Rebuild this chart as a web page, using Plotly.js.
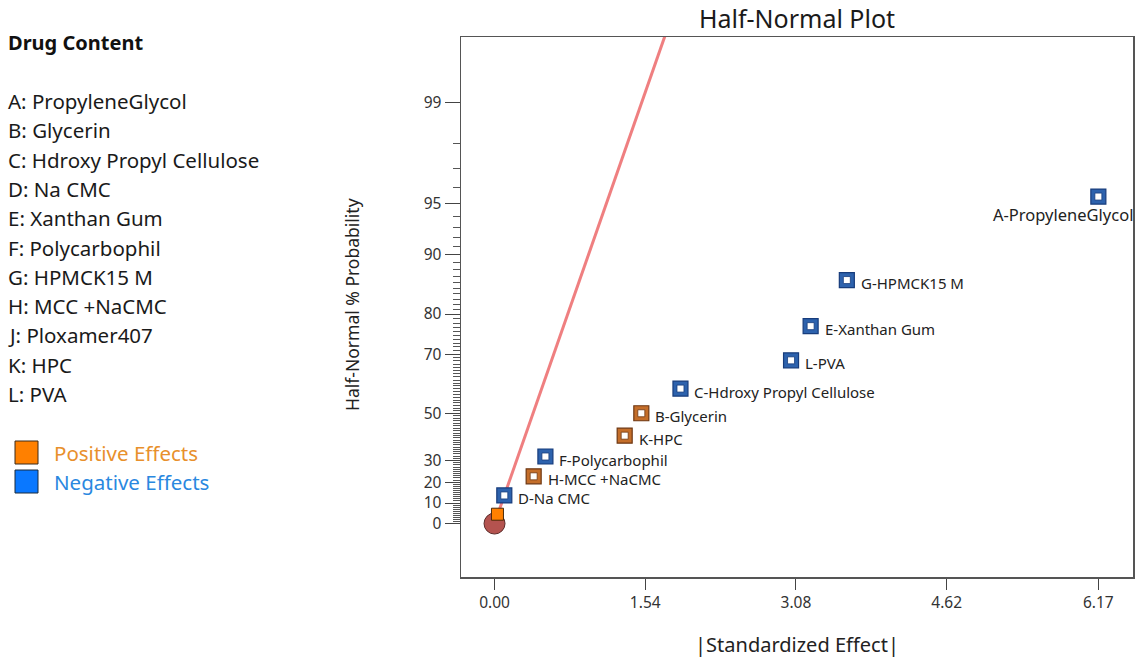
<!DOCTYPE html>
<html>
<head>
<meta charset="utf-8">
<script src="https://cdn.plot.ly/plotly-3.0.1.min.js"></script>
<style>html,body{margin:0;padding:0;background:#fff;}#chart{width:1135px;height:658px;}</style>
</head>
<body>
<div id="chart"></div>
<script>
// ---------- data ----------
const factorLetters = ['A','B','C','D','E','F','G','H','J','K','L'];
const factorNames = ['PropyleneGlycol','Glycerin','Hdroxy Propyl Cellulose','Na CMC','Xanthan Gum','Polycarbophil','HPMCK15 M','MCC +NaCMC','Ploxamer407','HPC','PVA'];
const effectSize = [6.17, 1.50, 1.90, 0.10, 3.23, 0.52, 3.60, 0.40, 0.03, 1.33, 3.03];
const halfNormalProb = [95.45, 50.00, 59.09, 13.64, 77.27, 31.82, 86.36, 22.73, 4.55, 40.91, 68.18];
const effectSign = ['-','+','-','-','-','-','-','+','+','+','-'];
const showLabel = [true,true,true,true,true,true,true,true,false,true,true];
const originEffect = [0];
const originProb = [0];
const fitEffect = [0, 2.0];
const fitSlope = 1.7126; // z units per |effect| unit
const xTickVals = [0, 1.54, 3.08, 4.62, 6.17];
const yMajorProb = [0, 10, 20, 30, 50, 70, 80, 90, 95, 99];
const legendTitle = 'Drug Content';

// ---------- helpers ----------
function invNorm(p){
  const a=[-3.969683028665376e+01,2.209460984245205e+02,-2.759285104469687e+02,1.383577518672690e+02,-3.066479806614716e+01,2.506628277459239e+00];
  const b=[-5.447609879822406e+01,1.615858368580409e+02,-1.556989798598866e+02,6.680131188771972e+01,-1.328068155288572e+01];
  const c=[-7.784894002430293e-03,-3.223964580411365e-01,-2.400758277161838e+00,-2.549732539343734e+00,4.374664141464968e+00,2.938163982698783e+00];
  const d=[7.784695709041462e-03,3.224671290700398e-01,2.445134137142996e+00,3.754408661907416e+00];
  const pl=0.02425, ph=1-pl; let q,r;
  if(p<pl){q=Math.sqrt(-2*Math.log(p));return (((((c[0]*q+c[1])*q+c[2])*q+c[3])*q+c[4])*q+c[5])/((((d[0]*q+d[1])*q+d[2])*q+d[3])*q+1);}
  if(p<=ph){q=p-0.5;r=q*q;return (((((a[0]*r+a[1])*r+a[2])*r+a[3])*r+a[4])*r+a[5])*q/(((((b[0]*r+b[1])*r+b[2])*r+b[3])*r+b[4])*r+1);}
  q=Math.sqrt(-2*Math.log(1-p));return -(((((c[0]*q+c[1])*q+c[2])*q+c[3])*q+c[4])*q+c[5])/((((d[0]*q+d[1])*q+d[2])*q+d[3])*q+1);
}
// half-normal probability scale
function hz(pct){ return pct<=0 ? 0 : invNorm(0.5 + pct/200); }

const yMinorProb = [];
for(let p=1;p<99;p++){ if(yMajorProb.indexOf(p)<0) yMinorProb.push(p); }

const FONT = 'Noto Sans, Open Sans, sans-serif';
const BLUE_OUT='#173c7c', BLUE_MID='#2d62ad';
const ORG_OUT='#6e3712', ORG_MID='#c46e2a';

const idxNeg = [], idxPos = [];
effectSign.forEach((s,i)=>{ if(factorLetters[i]==='J') return; (s==='+'?idxPos:idxNeg).push(i); });
const jIdx = factorLetters.indexOf('J');

function pick(arr, idx){ return idx.map(i=>arr[i]); }

const traces = [];
// fit line
traces.push({x: fitEffect, y: fitEffect.map(v=>v*fitSlope), mode:'lines', line:{color:'#ef7f80', width:3}, hoverinfo:'skip'});
// origin marker
traces.push({x: originEffect, y: originProb.map(hz), mode:'markers', marker:{symbol:'circle', size:21, color:'#b4534f', line:{color:'#5b2a28', width:1}}, cliponaxis:false});
// J marker (small filled)
traces.push({x:[effectSize[jIdx]], y:[hz(halfNormalProb[jIdx])], mode:'markers', marker:{symbol:'square', size:12, color:'#ff8000', line:{color:'#4a2a0a', width:1}}});
// negative / positive effects
[[idxNeg, BLUE_OUT, BLUE_MID],[idxPos, ORG_OUT, ORG_MID]].forEach(([idx,outC,midC])=>{
  traces.push({x: pick(effectSize,idx), y: pick(halfNormalProb,idx).map(hz), mode:'markers', marker:{symbol:'square', size:15, color:midC, line:{color:outC, width:1.2}}});
  traces.push({x: pick(effectSize,idx), y: pick(halfNormalProb,idx).map(hz), mode:'markers', marker:{symbol:'square', size:7, color:'#ffffff', line:{color:outC, width:0.8}}});
});

// annotations
const ann = [];
const LBL = 15;
factorLetters.forEach((L,i)=>{
  if(!showLabel[i]) return;
  const t = L + '-' + factorNames[i];
  if(L==='A'){
    ann.push({x:effectSize[i], y:hz(halfNormalProb[i]), xref:'x', yref:'y', text:t, showarrow:false, xanchor:'right', yanchor:'middle', xshift:36, yshift:-18, borderpad:0, font:{family:FONT, size:16.5, color:'#222'}});
  } else {
    ann.push({x:effectSize[i], y:hz(halfNormalProb[i]), xref:'x', yref:'y', text:t, showarrow:false, xanchor:'left', yanchor:'middle', xshift:13, yshift:-3, borderpad:0, font:{family:FONT, size:LBL, color:'#222'}});
  }
});
// left legend (factor list)
const W = 672, H = 540, L0 = 461, T0 = 37;
function px2x(px){ return (px - L0)/W; }
function py2y(py){ return (T0 + H - py)/H; }
ann.push({xref:'paper', yref:'paper', x:px2x(6), y:py2y(43), text:'<b>'+legendTitle+'</b>', showarrow:false, xanchor:'left', yanchor:'middle', font:{family:FONT, size:20, color:'#111'}});
factorLetters.forEach((L,i)=>{
  ann.push({xref:'paper', yref:'paper', x:px2x(6), y:py2y(101 + i*29.3), text:L+': '+factorNames[i], showarrow:false, xanchor:'left', yanchor:'middle', font:{family:FONT, size:20.5, color:'#1a1a1a'}});
});
ann.push({xref:'paper', yref:'paper', x:px2x(52), y:py2y(453), text:'Positive Effects', showarrow:false, xanchor:'left', yanchor:'middle', font:{family:FONT, size:20.5, color:'#e8902c'}});
ann.push({xref:'paper', yref:'paper', x:px2x(52), y:py2y(482), text:'Negative Effects', showarrow:false, xanchor:'left', yanchor:'middle', font:{family:FONT, size:20.5, color:'#2a88df'}});
// y-axis title
ann.push({xref:'paper', yref:'paper', x:px2x(352), y:py2y(305), text:'Half-Normal % Probability', textangle:-90, showarrow:false, xanchor:'center', yanchor:'middle', font:{family:FONT, size:17.5, color:'#222'}});

const shapes = [
  {type:'rect', xref:'paper', yref:'paper', x0:px2x(15), x1:px2x(38), y0:py2y(464), y1:py2y(441), fillcolor:'#ff8000', line:{color:'#3a2a1a', width:1}},
  {type:'rect', xref:'paper', yref:'paper', x0:px2x(15), x1:px2x(38), y0:py2y(493), y1:py2y(470), fillcolor:'#0a78ff', line:{color:'#1a2a3a', width:1}}
];

const layout = {
  width:1135, height:658,
  margin:{l:461, r:2, t:37, b:81},
  paper_bgcolor:'#fff', plot_bgcolor:'#fff',
  showlegend:false,
  title:{text:'Half-Normal Plot', x:0.5, xref:'paper', xanchor:'center', y:1-19/658, yanchor:'middle', font:{family:FONT, size:25, color:'#1a1a1a'}},
  xaxis:{range:[-0.3425, 6.524], tickmode:'array', tickvals:xTickVals, tickformat:'.2f', ticks:'outside', ticklen:11, tickcolor:'#444', tickwidth:1,
         showline:true, mirror:true, linecolor:'#555', linewidth:1.5, showgrid:false, zeroline:false,
         tickfont:{family:FONT, size:15.5, color:'#333'},
         title:{text:'|Standardized Effect|', standoff:26, font:{family:FONT, size:20, color:'#222'}}},
  yaxis:{range:[-0.327, 2.976], tickmode:'array', tickvals:yMajorProb.map(hz), ticktext:yMajorProb.map(String), ticks:'outside', ticklen:15, tickcolor:'#444', tickwidth:1,
         minor:{tickmode:'array', tickvals:yMinorProb.map(hz), ticks:'outside', ticklen:7, tickcolor:'#555', tickwidth:1, showgrid:false},
         showline:true, mirror:true, linecolor:'#555', linewidth:1.5, showgrid:false, zeroline:false,
         tickfont:{family:FONT, size:15.5, color:'#333'}},
  annotations:ann,
  shapes:shapes
};

Plotly.newPlot('chart', traces, layout, {displayModeBar:false, staticPlot:true});
</script>
</body>
</html>
